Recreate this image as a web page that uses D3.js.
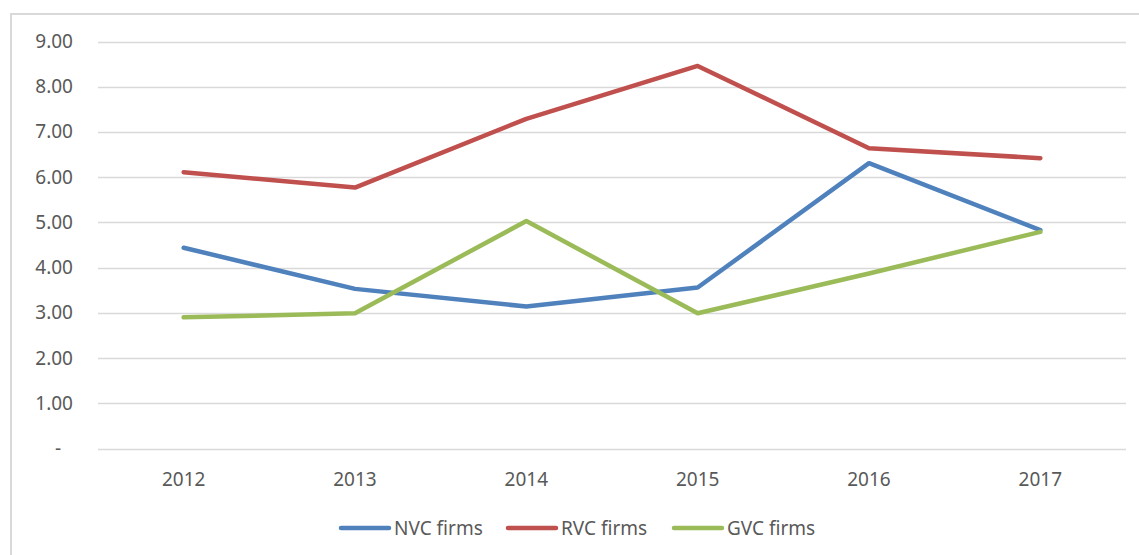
<!DOCTYPE html>
<html><head><meta charset="utf-8">
<script src="https://cdn.jsdelivr.net/npm/d3@7"></script>
<style>
html,body{margin:0;padding:0;background:#fff;}
svg{display:block;}
text{font-family:"Noto Sans","Open Sans",sans-serif;fill:#595959;}
</style></head>
<body>
<svg id="chart" width="1139" height="555"></svg>
<script>
const years = ["2012","2013","2014","2015","2016","2017"];
const nvc = [4.44, 3.53, 3.14, 3.56, 6.31, 4.83];
const rvc = [6.11, 5.77, 7.29, 8.46, 6.64, 6.42];
const gvc = [2.90, 2.99, 5.03, 2.99, 3.87, 4.79];
const seriesNames = ["NVC firms","RVC firms","GVC firms"];
const seriesColors = ["#4f81bd","#c0504d","#9bbb59"];
const yTicks = [0,1,2,3,4,5,6,7,8,9];

const svg = d3.select("#chart");
// outer border
svg.append("rect").attr("x",11).attr("y",14).attr("width",1140).attr("height",560)
  .attr("fill","none").attr("stroke","#d9d9d9").attr("stroke-width",2);

const x = d3.scalePoint().domain(years).range([98,1126]).padding(0.5);
const y = d3.scaleLinear().domain([0,9]).range([448.5,41.5]);

// gridlines
svg.append("g").selectAll("line").data(yTicks).join("line")
  .attr("x1",98).attr("x2",1126)
  .attr("y1",d=>Math.round(y(d))+0.5).attr("y2",d=>Math.round(y(d))+0.5)
  .attr("stroke","#d9d9d9").attr("stroke-width",1.3);

// y labels
svg.append("g").selectAll("text").data(yTicks).join("text")
  .attr("x",d=>d===0?58:73)
  .attr("text-anchor",d=>d===0?"middle":"end")
  .attr("y",d=>y(d)+6.5)
  .attr("font-size",19)
  .text(d=>d===0?"-":d3.format(".2f")(d));

// x labels
svg.append("g").selectAll("text").data(years).join("text")
  .attr("x",d=>x(d)).attr("y",486).attr("text-anchor","middle")
  .attr("font-size",19).text(d=>d);

const allSeries = [nvc,rvc,gvc];
const line = d3.line().x((d,i)=>x(years[i])).y(d=>y(d));
svg.append("g").selectAll("path").data(allSeries).join("path")
  .attr("d",d=>line(d)).attr("fill","none")
  .attr("stroke",(d,i)=>seriesColors[i]).attr("stroke-width",4.5)
  .attr("stroke-linejoin","round").attr("stroke-linecap","round");

// legend
const legX = [340,507,673];
const lg = svg.append("g");
seriesNames.forEach((n,i)=>{
  lg.append("line").attr("x1",legX[i]+1).attr("x2",legX[i]+49).attr("y1",528).attr("y2",528)
    .attr("stroke",seriesColors[i]).attr("stroke-width",4.5).attr("stroke-linecap","round");
  lg.append("text").attr("x",legX[i]+54).attr("y",535).attr("font-size",19).text(n);
});
</script>
</body></html>
